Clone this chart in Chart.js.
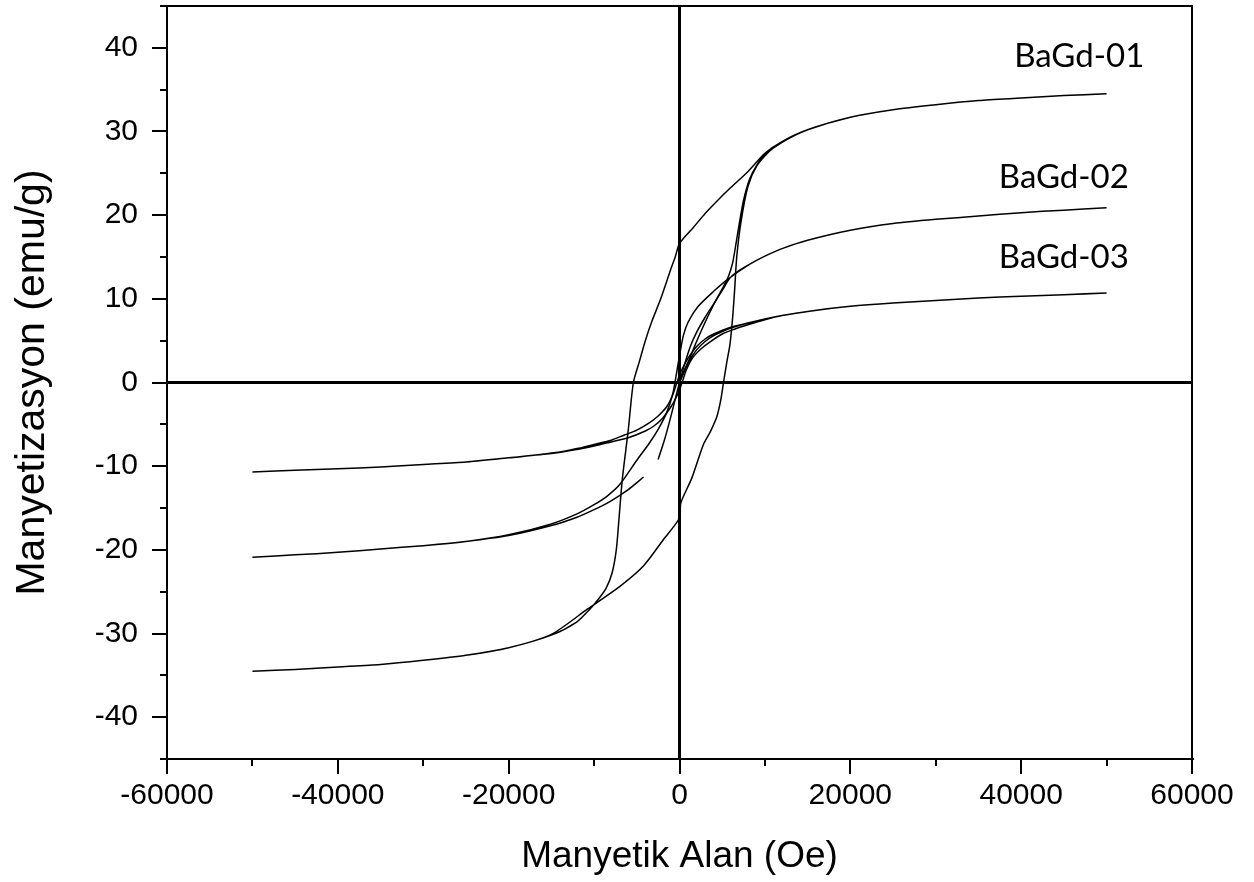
<!DOCTYPE html>
<html>
<head>
<meta charset="utf-8">
<script src="https://cdn.jsdelivr.net/npm/chart.js@4.4.1/dist/chart.umd.min.js"></script>
<style>
  html, body { margin: 0; padding: 0; background: #ffffff; }
  canvas { display: block; }
</style>
</head>
<body>
<canvas id="loops" width="1254" height="882"></canvas>
<script>
// Hysteresis loops M(H), each stored in measurement order (field in Oe, magnetisation in emu/g)

const bagd01Field = [
  0, 1000, 2000, 3000, 4000, 5000, 5700, 6200, 6600, 7000, 7500, 8200, 9000, 10000, 12000, 15000, 20000, 25000, 30000, 35000, 40000, 45000, 50000,
  45000, 40000, 35000, 30000, 25000, 20000, 15000, 12000, 10000, 8000, 6000, 4400, 3000, 1600, 0, -500, -1000, -2200, -3200, -4000, -4700, -5400, -6000, -6700, -7100, -7400, -7900, -8600, -9500, -10500, -12000, -15000, -20000, -25000, -30000, -35000, -40000, -45000, -50000,
  -45000, -40000, -35000, -30000, -25000, -20000, -15000, -10800, -6900, -4200, -1900, 0, 150, 1450, 2800, 3600, 4400, 4850, 5150, 5550, 5900, 6200, 6450, 6700, 7200, 8000, 9000, 10500, 12000, 15000, 20000, 25000, 30000, 35000, 40000, 45000, 50000
];
const bagd01Mag = [
  0, 2.4, 4.9, 7.2, 9.3, 11.2, 12.6, 14.2, 16.5, 19.0, 21.8, 24.3, 25.9, 27.2, 28.7, 30.2, 31.7, 32.6, 33.2, 33.7, 34.0, 34.3, 34.5,
  34.3, 34.0, 33.7, 33.2, 32.6, 31.7, 30.2, 28.8, 27.4, 25.2, 23.3, 21.7, 20.2, 18.5, 16.6, 15.0, 13.6, 10.0, 7.4, 5.0, 2.5, 0, -5.7, -11.6, -16.5, -20.0, -22.8, -24.6, -25.9, -27.1, -28.6, -30.2, -31.7, -32.6, -33.2, -33.7, -34.0, -34.3, -34.5,
  -34.3, -34.0, -33.7, -33.2, -32.6, -31.7, -30.1, -27.1, -24.3, -21.9, -18.8, -16.2, -14.4, -11.4, -7.4, -5.9, -4.0, -2.0, 0, 2.5, 4.5, 7.5, 11.0, 15.0, 19.2, 23.4, 25.8, 27.6, 28.8, 30.2, 31.7, 32.6, 33.2, 33.7, 34.0, 34.3, 34.5
];

const bagd02Field = [
  -2500, -1800, -1200, -600, 0, 600, 1300, 2000, 3000, 4000, 5000, 5900, 7000, 8500, 10000, 12000, 15000, 20000, 25000, 30000, 35000, 40000, 45000, 50000,
  45000, 40000, 35000, 30000, 25000, 20000, 15000, 12000, 10000, 8000, 5600, 4000, 2100, 1000, 450, 0, -400, -800, -1500, -2500, -3500, -5000, -7000, -8500, -10000, -12000, -15000, -20000, -25000, -30000, -35000, -40000, -45000, -50000,
  -45000, -40000, -35000, -30000, -25000, -20000, -15000, -12000, -10000, -8100, -6000, -4200
];
const bagd02Mag = [
  -9.2, -7.0, -4.8, -2.4, 0, 2.2, 4.4, 6.0, 7.8, 9.4, 11.0, 12.5, 13.4, 14.3, 15.1, 16.0, 17.0, 18.2, 19.0, 19.5, 19.9, 20.3, 20.6, 20.9,
  20.6, 20.3, 19.9, 19.5, 19.0, 18.2, 17.0, 16.0, 15.1, 14.0, 12.3, 10.9, 9.0, 7.2, 5.6, 3.2, 0.8, -1.4, -3.6, -5.6, -7.2, -9.3, -12.2, -13.6, -14.6, -15.7, -16.9, -18.2, -19.0, -19.5, -19.9, -20.3, -20.6, -20.9,
  -20.6, -20.3, -19.9, -19.5, -19.0, -18.3, -17.1, -16.1, -15.2, -14.2, -12.8, -11.3
];

const bagd03Field = [
  0, 500, 1000, 2000, 3000, 4000, 5000, 6000, 8000, 10000, 12000, 15000, 20000, 25000, 30000, 35000, 40000, 45000, 50000,
  45000, 40000, 35000, 30000, 25000, 20000, 15000, 12000, 10000, 8000, 6000, 4000, 3000, 2000, 1000, 500, 0, -300, -800, -1500, -2500, -3500, -5000, -6500, -8000, -10000, -12000, -14000, -20000, -25000, -30000, -35000, -40000, -45000, -50000,
  -45000, -40000, -35000, -30000, -25000, -20000, -15000, -12000, -10000, -8000, -6000, -4000, -3000, -2000, -1000, -500, 0, 300, 800, 1500, 2500, 3500, 5000, 6500, 8000, 10000, 12000, 15000, 20000, 25000, 30000, 35000, 40000, 45000, 50000
];
const bagd03Mag = [
  0, 1.3, 2.4, 3.9, 4.9, 5.6, 6.1, 6.5, 7.1, 7.6, 8.0, 8.5, 9.1, 9.5, 9.8, 10.1, 10.3, 10.5, 10.7,
  10.5, 10.3, 10.1, 9.8, 9.5, 9.1, 8.5, 8.0, 7.6, 7.1, 6.6, 5.8, 5.2, 4.3, 2.9, 2.0, 0.9, 0, -1.5, -2.9, -4.0, -4.8, -5.7, -6.3, -6.9, -7.4, -7.9, -8.3, -9.0, -9.5, -9.8, -10.1, -10.3, -10.5, -10.7,
  -10.5, -10.3, -10.1, -9.8, -9.5, -9.0, -8.5, -8.0, -7.6, -7.1, -6.6, -5.8, -5.2, -4.3, -2.9, -2.0, -0.9, 0, 1.5, 2.9, 4.0, 4.8, 5.8, 6.4, 6.9, 7.5, 8.0, 8.5, 9.1, 9.5, 9.8, 10.1, 10.3, 10.5, 10.7
];

// Sample names and where each name sits (data coordinates of the text centre)
const sampleNames = ['BaGd-01', 'BaGd-02', 'BaGd-03'];
const nameFieldPos = [46800, 45000, 45000];
const nameMagPos = [39.0, 24.5, 14.9];

// Axis ticks
const xTickValues = [-60000, -50000, -40000, -30000, -20000, -10000, 0, 10000, 20000, 30000, 40000, 50000, 60000];
const xTickLabels = [-60000, -40000, -20000, 0, 20000, 40000, 60000];
const yTickValues = [-45, -40, -35, -30, -25, -20, -15, -10, -5, 0, 5, 10, 15, 20, 25, 30, 35, 40, 45];
const yTickLabels = [-40, -30, -20, -10, 0, 10, 20, 30, 40];

const sansFont = '"Liberation Sans", Arial, "DejaVu Sans", sans-serif';
const nameFont = 'Lato, "Open Sans", sans-serif';

function toPoints(hs, ms) {
  return hs.map((h, i) => ({ x: h, y: ms[i] }));
}

function loopDataset(name, hs, ms) {
  return {
    label: name,
    data: toPoints(hs, ms),
    showLine: true,
    borderColor: '#000000',
    borderWidth: 1.5,
    pointRadius: 0,
    pointHoverRadius: 0,
    tension: 0.25,
    fill: false
  };
}

// Only the H = 0 and M = 0 lines are drawn across the plot
const zeroLineColor = (ctx) => (ctx.tick && ctx.tick.value === 0 ? '#000000' : 'rgba(0,0,0,0)');

// Outward tick marks: long ones at labelled values, short ones between
const tickMarks = {
  id: 'tickMarks',
  afterDraw(chart) {
    const { ctx, chartArea, scales } = chart;
    ctx.save();
    ctx.strokeStyle = '#000000';
    ctx.lineWidth = 2;
    ctx.beginPath();
    xTickValues.forEach((v) => {
      const px = Math.round(scales.x.getPixelForValue(v));
      const len = xTickLabels.includes(v) ? 15 : 7;
      ctx.moveTo(px, chartArea.bottom);
      ctx.lineTo(px, chartArea.bottom + len);
    });
    yTickValues.forEach((v) => {
      const py = Math.round(scales.y.getPixelForValue(v));
      const len = yTickLabels.includes(v) ? 15 : 7;
      ctx.moveTo(chartArea.left, py);
      ctx.lineTo(chartArea.left - len, py);
    });
    ctx.stroke();
    ctx.restore();
  }
};

// Top and right sides of the plot frame
const plotFrame = {
  id: 'plotFrame',
  afterDraw(chart) {
    const { ctx, chartArea } = chart;
    ctx.save();
    ctx.strokeStyle = '#000000';
    ctx.lineWidth = 2;
    ctx.beginPath();
    ctx.moveTo(chartArea.left, chartArea.top);
    ctx.lineTo(chartArea.right, chartArea.top);
    ctx.lineTo(chartArea.right, chartArea.bottom);
    ctx.stroke();
    ctx.restore();
  }
};

// Sample names beside their saturation branches
const sampleLabels = {
  id: 'sampleLabels',
  afterDatasetsDraw(chart) {
    const { ctx, scales } = chart;
    ctx.save();
    ctx.fillStyle = '#000000';
    ctx.font = '33px ' + nameFont;
    ctx.textAlign = 'center';
    ctx.textBaseline = 'middle';
    sampleNames.forEach((name, i) => {
      ctx.fillText(name, scales.x.getPixelForValue(nameFieldPos[i]), scales.y.getPixelForValue(nameMagPos[i]));
    });
    ctx.restore();
  }
};

new Chart(document.getElementById('loops'), {
  type: 'scatter',
  data: {
    datasets: [
      loopDataset(sampleNames[0], bagd01Field, bagd01Mag),
      loopDataset(sampleNames[1], bagd02Field, bagd02Mag),
      loopDataset(sampleNames[2], bagd03Field, bagd03Mag)
    ]
  },
  options: {
    responsive: false,
    animation: false,
    devicePixelRatio: 1,
    layout: { padding: { left: 0, top: 6, right: 62, bottom: 0 } },
    plugins: {
      legend: { display: false },
      tooltip: { enabled: false }
    },
    scales: {
      x: {
        type: 'linear',
        min: -60000,
        max: 60000,
        afterBuildTicks: (scale) => { scale.ticks = xTickValues.map((v) => ({ value: v })); },
        afterFit: (scale) => {
          scale.height = 123;
          scale.paddingLeft = 0;
          scale.paddingRight = 0;
        },
        ticks: {
          autoSkip: false,
          maxRotation: 0,
          padding: 19,
          color: '#000000',
          font: { family: sansFont, size: 30 },
          callback: (v) => (xTickLabels.includes(v) ? String(v) : '')
        },
        grid: { drawTicks: false, color: zeroLineColor, lineWidth: 3 },
        border: { display: true, color: '#000000', width: 2 },
        title: {
          display: true,
          text: 'Manyetik Alan (Oe)',
          color: '#000000',
          font: { family: sansFont, size: 37 },
          padding: { top: 0, bottom: 3 }
        }
      },
      y: {
        type: 'linear',
        min: -45,
        max: 45,
        afterBuildTicks: (scale) => { scale.ticks = yTickValues.map((v) => ({ value: v })); },
        afterFit: (scale) => {
          scale.width = 167;
          scale.paddingTop = 0;
          scale.paddingBottom = 0;
        },
        ticks: {
          autoSkip: false,
          padding: 29,
          color: '#000000',
          font: { family: sansFont, size: 30 },
          callback: (v) => (yTickLabels.includes(v) ? String(v) : '')
        },
        grid: { drawTicks: false, color: zeroLineColor, lineWidth: 3 },
        border: { display: true, color: '#000000', width: 2 },
        title: {
          display: true,
          text: 'Manyetizasyon (emu/g)',
          color: '#000000',
          font: { family: sansFont, size: 41 },
          padding: { top: 8, bottom: 0 }
        }
      }
    }
  },
  plugins: [tickMarks, plotFrame, sampleLabels]
});
</script>
</body>
</html>
